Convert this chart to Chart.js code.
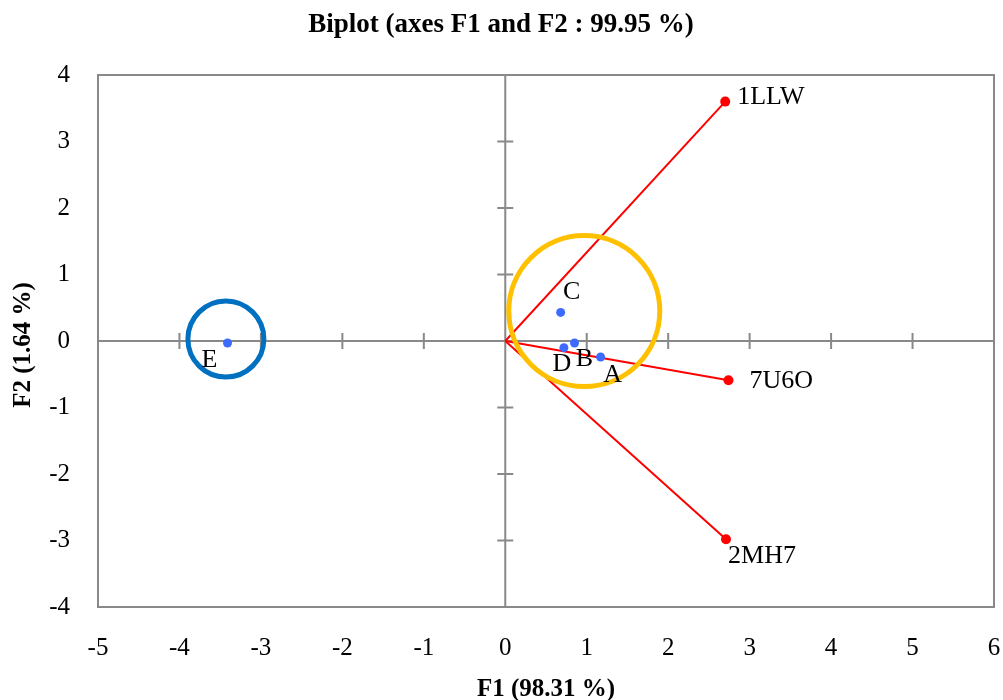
<!DOCTYPE html>
<html>
<head>
<meta charset="utf-8">
<title>Biplot (axes F1 and F2 : 99.95 %)</title>
<script src="https://cdn.jsdelivr.net/npm/chart.js@4/dist/chart.umd.min.js"></script>
<style>
  html, body { margin: 0; padding: 0; background: #ffffff; }
  #wrap { width: 1003px; height: 700px; }
</style>
</head>
<body>
<div id="wrap"><canvas id="c" width="1003" height="700"></canvas></div>
<script>
// Variable vectors (loadings) on F1 / F2
const varNames = ['1LLW', '7U6O', '2MH7'];
const varF1 = [2.70, 2.74, 2.71];
const varF2 = [3.60, -0.59, -2.98];

// Observations (scores) on F1 / F2
const obsNames = ['A', 'B', 'C', 'D', 'E'];
const obsF1 = [1.17, 0.85, 0.68, 0.72, -3.41];
const obsF2 = [-0.24, -0.03, 0.43, -0.10, -0.03];

// Group outlines: centre on F1 / F2
const groupF1 = [-3.43, 0.97];
const groupF2 = [0.03, 0.45];

// Axis tick values
const f1Ticks = [-5, -4, -3, -2, -1, 0, 1, 2, 3, 4, 5, 6];
const f2Ticks = [-4, -3, -2, -1, 0, 1, 2, 3, 4];

// ---- styling ----
const FONT = '"Liberation Serif", "Times New Roman", serif';
const GREY = '#898989';
const RED = '#ff0000';
const BLUE_PT = '#3d6bff';
const groupColors = ['#0070c0', '#ffc000'];
const groupRadius = [38, 75.5];           // px
const varLabelOffset = [[12, -4], [21, 1], [2, 17]];      // left-aligned text
const obsLabelOffset = [[12, 18], [10, 16], [11, -20], [-2, 17], [-18, 17]];

// plot frame in canvas pixels
const AREA = { left: 98, top: 75, right: 994, bottom: 607 };

const datasets = [];

// outlined group circles (on top)
groupF1.forEach((gx, i) => {
  datasets.push({
    type: 'bubble',
    data: [{ x: gx, y: groupF2[i], r: groupRadius[i] }],
    backgroundColor: 'rgba(0,0,0,0)',
    borderColor: groupColors[i],
    borderWidth: 5,
    order: 0,
    clip: false
  });
});

// observation points
datasets.push({
  type: 'scatter',
  label: 'obs',
  data: obsF1.map((x, i) => ({ x, y: obsF2[i] })),
  backgroundColor: BLUE_PT,
  borderColor: BLUE_PT,
  pointRadius: 4.5,
  borderWidth: 0,
  order: 1
});

// variable vectors from the origin
varF1.forEach((vx, i) => {
  datasets.push({
    type: 'line',
    label: 'var' + i,
    data: [{ x: 0, y: 0 }, { x: vx, y: varF2[i] }],
    borderColor: RED,
    backgroundColor: RED,
    borderWidth: 2,
    pointRadius: [0, 5],
    pointBorderWidth: 0,
    fill: false,
    tension: 0,
    order: 2
  });
});

// frame, zero axes with crossing ticks
const framePlugin = {
  id: 'frame',
  beforeDatasetsDraw(chart) {
    const { ctx, chartArea: a, scales: { x, y } } = chart;
    ctx.save();
    ctx.strokeStyle = GREY;
    ctx.lineWidth = 2;
    ctx.strokeRect(a.left, a.top, a.right - a.left, a.bottom - a.top);
    const x0 = x.getPixelForValue(0);
    const y0 = y.getPixelForValue(0);
    ctx.beginPath();
    ctx.moveTo(a.left, y0); ctx.lineTo(a.right, y0);
    ctx.moveTo(x0, a.top); ctx.lineTo(x0, a.bottom);
    const h = 8;
    f1Ticks.forEach(v => {
      const px = x.getPixelForValue(v);
      ctx.moveTo(px, y0 - h); ctx.lineTo(px, y0 + h);
    });
    f2Ticks.forEach(v => {
      const py = y.getPixelForValue(v);
      ctx.moveTo(x0 - h, py); ctx.lineTo(x0 + h, py);
    });
    ctx.stroke();
    ctx.restore();
  },
  afterDatasetsDraw(chart) {
    const { ctx, scales: { x, y } } = chart;
    ctx.save();
    ctx.fillStyle = '#000000';
    ctx.font = '26px ' + FONT;
    ctx.textBaseline = 'middle';
    ctx.textAlign = 'left';
    varNames.forEach((n, i) => {
      ctx.fillText(n, x.getPixelForValue(varF1[i]) + varLabelOffset[i][0],
                      y.getPixelForValue(varF2[i]) + varLabelOffset[i][1]);
    });
    ctx.textAlign = 'center';
    obsNames.forEach((n, i) => {
      ctx.fillText(n, x.getPixelForValue(obsF1[i]) + obsLabelOffset[i][0],
                      y.getPixelForValue(obsF2[i]) + obsLabelOffset[i][1]);
    });
    ctx.restore();
  },
  afterDraw(chart) {
    const { ctx } = chart;
    ctx.save();
    ctx.fillStyle = '#000000';
    ctx.textAlign = 'center';
    ctx.textBaseline = 'middle';
    ctx.font = 'bold 27px ' + FONT;
    ctx.fillText('Biplot (axes F1 and F2 : 99.95 %)', 501, 25);
    ctx.font = 'bold 25px ' + FONT;
    ctx.fillText('F1 (98.31 %)', 546, 690);
    ctx.translate(24, 345);
    ctx.rotate(-Math.PI / 2);
    ctx.fillText('F2 (1.64 %)', 0, 0);
    ctx.restore();
  }
};

new Chart(document.getElementById('c'), {
  type: 'scatter',
  data: { datasets },
  options: {
    responsive: false,
    devicePixelRatio: 1,
    animation: false,
    events: [],
    layout: { autoPadding: false, padding: { top: AREA.top, right: 1003 - AREA.right, left: 0, bottom: 0 } },
    plugins: { legend: { display: false }, tooltip: { enabled: false }, title: { display: false } },
    scales: {
      x: {
        type: 'linear', min: -5, max: 6,
        afterBuildTicks(s) { s.ticks = f1Ticks.map(v => ({ value: v })); },
        afterFit(s) { s.height = 700 - AREA.bottom; s.paddingLeft = 0; s.paddingRight = 0; },
        grid: { display: false, drawTicks: false },
        border: { display: false },
        ticks: { color: '#000000', font: { family: FONT, size: 25 }, padding: 26, maxRotation: 0, autoSkip: false }
      },
      y: {
        type: 'linear', min: -4, max: 4,
        afterBuildTicks(s) { s.ticks = f2Ticks.map(v => ({ value: v })); },
        afterFit(s) { s.width = AREA.left; s.paddingTop = 0; s.paddingBottom = 0; },
        grid: { display: false, drawTicks: false },
        border: { display: false },
        ticks: { color: '#000000', font: { family: FONT, size: 25 }, padding: 28, autoSkip: false }
      }
    }
  },
  plugins: [framePlugin]
});
</script>
</body>
</html>
